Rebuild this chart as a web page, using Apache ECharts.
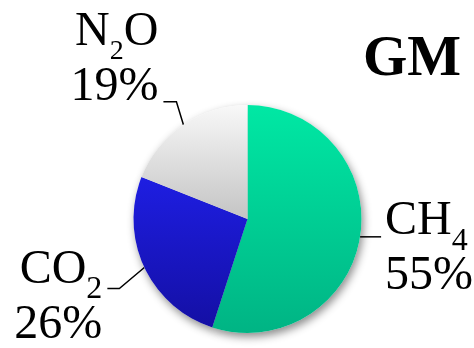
<!DOCTYPE html>
<html>
<head>
<meta charset="utf-8">
<script src="https://cdn.jsdelivr.net/npm/echarts@6/dist/echarts.min.js"></script>
<style>
  html, body { margin: 0; padding: 0; background: #ffffff; }
  #chart { width: 474px; height: 348px; }
</style>
</head>
<body>
<div id="chart"></div>
<script>
// Greenhouse-gas shares for GM
const gases = ['CH4', 'CO2', 'N2O'];
const gasLabels = ['CH{sub|4}', 'CO{sub|2}', 'N{subS|2}O'];
const shares = [55, 26, 19];
const chartTitle = 'GM';

// Slice fills: vertical gradients, top colour then bottom colour
const sliceTop = ['#00E8A4', '#1E1EE2', '#F8F8F8'];
const sliceBottom = ['#00B484', '#140FA4', '#C4C4C4'];

// Leader-line bends relative to the slice edge point: [elbow, end]
const leaderBends = [
  [[21, 0], [21, 0]],
  [[-25, 21], [-37, 21]],
  [[-7, -23], [-20, -23]]
];
// Label block placement relative to the leader end: [dx, dy, align]
const labelPlace = [
  [4, -43, 'left'],
  [-5, -46, 'right'],
  [-5, -97, 'right']
];

const FONT = 'Liberation Serif';
const CX = 247.5, CY = 219, R = 114;

function grad(i) {
  return new echarts.graphic.LinearGradient(0, 0, 0, 1, [
    { offset: 0, color: sliceTop[i] },
    { offset: 1, color: sliceBottom[i] }
  ]);
}

const data = gases.map((g, i) => ({
  name: g,
  value: shares[i],
  itemStyle: { color: grad(i) },
  label: { formatter: gasLabels[i] + '\n{d|' + shares[i] + '%}' }
}));

const shadowData = gases.map((g, i) => ({ name: g, value: shares[i] }));

const chart = echarts.init(document.getElementById('chart'), null, { renderer: 'canvas' });

chart.setOption({
  backgroundColor: '#ffffff',
  animation: false,
  title: {
    text: chartTitle,
    left: 358,
    top: 27,
    textStyle: { fontFamily: FONT, fontSize: 57, fontWeight: 'bold', color: '#000000' }
  },
  series: [
    {
      // soft drop shadow underneath the pie
      type: 'pie',
      silent: true,
      z: 1,
      center: [CX, CY],
      radius: R,
      startAngle: 90,
      clockwise: true,
      label: { show: false },
      labelLine: { show: false },
      itemStyle: {
        color: '#ffffff',
        shadowBlur: 8,
        shadowColor: 'rgba(0,0,0,0.45)',
        shadowOffsetX: 2,
        shadowOffsetY: 4
      },
      data: shadowData
    },
    {
      type: 'pie',
      z: 2,
      center: [CX, CY],
      radius: R,
      startAngle: 90,
      clockwise: true,
      avoidLabelOverlap: false,
      itemStyle: { borderWidth: 0 },
      label: {
        show: true,
        position: 'outside',
        fontFamily: FONT,
        fontSize: 48,
        color: '#000000',
        lineHeight: 55,
        rich: {
          // subscripts pushed below the baseline with top padding
          sub: { fontFamily: FONT, fontSize: 32, lineHeight: 12, padding: [40, 0, 0, 0], color: '#000000' },
          subS: { fontFamily: FONT, fontSize: 28, lineHeight: 12, padding: [38, 0, 0, 0], color: '#000000' },
          d: { fontFamily: FONT, fontSize: 48, lineHeight: 55, color: '#000000' }
        }
      },
      labelLine: {
        show: true,
        lineStyle: { color: '#000000', width: 1.5 }
      },
      labelLayout: function (p) {
        const i = p.dataIndex;
        let start;
        if (p.labelLinePoints && p.labelLinePoints[0]) {
          start = p.labelLinePoints[0];
        } else {
          let a = 90, sum = shares.reduce((s, v) => s + v, 0);
          for (let k = 0; k < i; k++) a -= shares[k] / sum * 360;
          a -= shares[i] / sum * 180;
          const rad = a * Math.PI / 180;
          start = [CX + R * Math.cos(rad), CY - R * Math.sin(rad)];
        }
        const b = leaderBends[i];
        const mid = [start[0] + b[0][0], start[1] + b[0][1]];
        const end = [start[0] + b[1][0], start[1] + b[1][1]];
        const lp = labelPlace[i];
        return {
          x: end[0] + lp[0],
          y: end[1] + lp[1],
          align: lp[2],
          verticalAlign: 'top',
          labelLinePoints: [start, mid, end]
        };
      },
      data: data
    }
  ]
});
</script>
</body>
</html>
